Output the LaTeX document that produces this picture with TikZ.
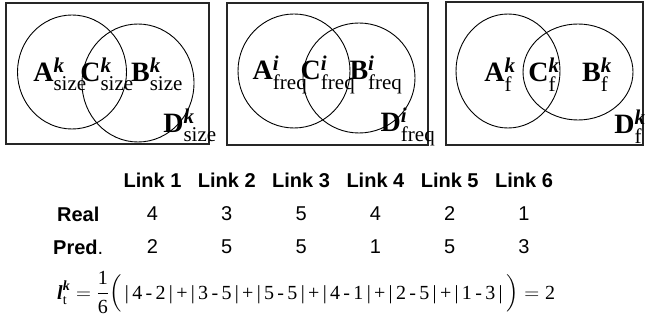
\documentclass[tikz,border=0pt]{standalone}
\usepackage{amsmath}
\usepackage{fontspec}
\setmainfont{Liberation Serif}
\setsansfont{Liberation Sans}
\usetikzlibrary{positioning}

\newcommand\subsz{\fontsize{21}{21}\selectfont}
\newcommand\vennlab[3]{\textbf{#1}$^{\text{\subsz\bfseries\itshape #2}}_{\text{\subsz #3}}$}
\newcommand\absdiff[2]{|\,#1\,-\,#2\,|}

\begin{document}
\begin{tikzpicture}[x=1pt, y=-1pt,
    node distance=74.3pt,
    frame/.style={draw=black!85, line width=1.4pt},
    set/.style={draw, line width=0.9pt},
    setlab/.style={inner sep=0pt, anchor=base, font=\fontsize{28}{30}\selectfont},
    head/.style={font=\sffamily\bfseries\fontsize{20}{22}\selectfont, inner sep=0pt},
    val/.style={font=\sffamily\fontsize{20}{22}\selectfont, inner sep=0pt}
]
\useasboundingbox (0,0) rectangle (645,320);

% size
\draw[frame] (6,3) rectangle (209,144);
\draw[set] (72,72) ellipse (54.5 and 57);
\draw[set] (138,83) ellipse (56 and 59);
\node (a1) [setlab] at (60,82) {\vennlab{A}{k}{size}};
\node (c1) [setlab] at (107,82) {\vennlab{C}{k}{size}};
\node (b1) [setlab] at (157,82) {\vennlab{B}{k}{size}};
\node (d1) [setlab] at (190,133) {\vennlab{D}{k}{size}};

% freq
\draw[frame] (227,3) rectangle (428,145);
\draw[set] (294,71) ellipse (56 and 57);
\draw[set] (359,78) ellipse (56 and 55);
\node (a2) [setlab] at (280,80) {\vennlab{A}{i}{freq}};
\node (c2) [setlab] at (328,80) {\vennlab{C}{i}{freq}};
\node (b2) [setlab] at (376,80) {\vennlab{B}{i}{freq}};
\node (d2) [setlab] at (408,132) {\vennlab{D}{i}{freq}};

% f
\draw[frame] (446,2) rectangle (643,145);
\draw[set] (508,71) ellipse (52 and 57);
\draw[set] (578,72) ellipse (55 and 48);
\node (a3) [setlab] at (500,82) {\vennlab{A}{k}{f}};
\node (c3) [setlab] at (544,82) {\vennlab{C}{k}{f}};
\node (b3) [setlab] at (597,82) {\vennlab{B}{k}{f}};
\node (d3) [setlab] at (630,134) {\vennlab{D}{k}{f}};

% table
\node (l1) [head] at (152.5,180) {Link 1};
\node (l2) [head, right of=l1] {Link 2};
\node (l3) [head, right of=l2] {Link 3};
\node (l4) [head, right of=l3] {Link 4};
\node (l5) [head, right of=l4] {Link 5};
\node (l6) [head, right of=l5] {Link 6};

\node (r1) [val, node distance=34pt, below of=l1] {4};
\node (r2) [val, right of=r1] {3};
\node (r3) [val, right of=r2] {5};
\node (r4) [val, right of=r3] {4};
\node (r5) [val, right of=r4] {2};
\node (r6) [val, right of=r5] {1};
\node (real) [head, left of=r1] {Real};

\node (p1) [val, node distance=33pt, below of=r1] {2};
\node (p2) [val, right of=p1] {5};
\node (p3) [val, right of=p2] {5};
\node (p4) [val, right of=p3] {1};
\node (p5) [val, right of=p4] {5};
\node (p6) [val, right of=p5] {3};
\node (pred) [val, left of=p1] {\textbf{Pred}.};

% error
\node (err) [anchor=base west, inner sep=0pt, font=\fontsize{20}{22}\selectfont] at (57,299)
  {$\text{\bfseries\itshape l}^{\text{\bfseries\itshape k}}_{\text{t}}=\dfrac{\text{1}}{\text{6}}\Bigl(\,\text{\absdiff{4}{2}\,+\,\absdiff{3}{5}\,+\,\absdiff{5}{5}\,+\,\absdiff{4}{1}\,+\,\absdiff{2}{5}\,+\,\absdiff{1}{3}}\,\Bigr)=\text{2}$};
\end{tikzpicture}
\end{document}
